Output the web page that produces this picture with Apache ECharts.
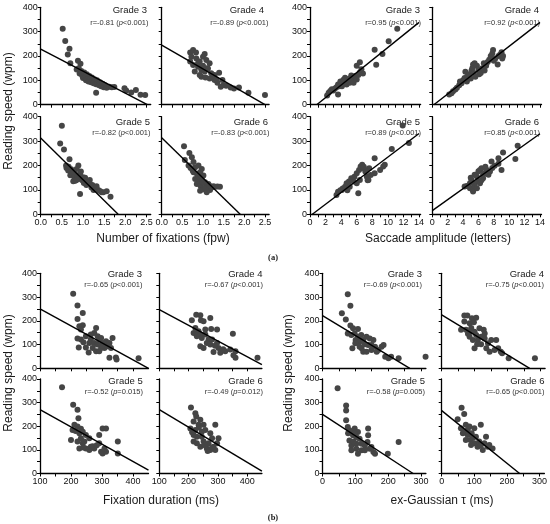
<!DOCTYPE html>
<html>
<head>
<meta charset="utf-8">
<script src="https://cdn.jsdelivr.net/npm/echarts@6/dist/echarts.min.js"></script>
<style>
  html, body { margin: 0; padding: 0; background: #fff; }
  #chart { width: 550px; height: 524px; }
</style>
</head>
<body>
<div id="chart"></div>
<script type="text/javascript">
// reading speed (wpm) vs. eye movement measures, per grade
var fixG3 = [[0.52,312],[0.58,262],[0.68,230],[0.64,206],[0.70,170],[0.88,180],[0.94,168],[0.85,145],[0.90,150],[0.92,128],[0.96,138],[0.98,120],[1.00,110],[1.03,132],[1.05,115],[1.07,100],[1.09,125],[1.11,105],[1.13,95],[1.15,118],[1.17,108],[1.19,92],[1.21,112],[1.23,100],[1.25,88],[1.27,105],[1.29,96],[1.31,84],[1.33,100],[1.35,90],[1.31,49],[1.38,80],[1.40,92],[1.43,76],[1.46,86],[1.49,72],[1.52,80],[1.56,70],[1.62,74],[1.68,72],[1.74,73],[1.98,68],[2.02,58],[2.14,50],[2.25,60],[2.36,41],[2.47,40]];
var fixG4 = [[0.69,214],[0.76,225],[0.83,214],[0.72,197],[0.84,190],[0.92,177],[1.00,197],[1.04,208],[1.08,184],[1.16,170],[0.69,177],[0.76,163],[0.88,156],[0.96,142],[0.80,136],[1.04,136],[1.12,149],[1.20,129],[1.39,131],[0.96,115],[1.06,112],[1.16,108],[1.28,101],[1.35,90],[1.47,101],[1.50,81],[1.43,74],[1.67,71],[1.75,67],[1.87,71],[2.10,49],[2.50,40],[1.28,122],[0.92,122],[1.10,150],[1.24,114],[0.88,170],[1.00,160],[1.33,104],[1.56,78]];
var fixG5 = [[0.50,363],[0.46,290],[0.55,266],[0.68,226],[0.60,200],[0.61,190],[0.65,180],[0.72,185],[0.89,200],[0.85,186],[0.81,138],[0.93,165],[1.00,152],[1.09,138],[1.16,141],[1.16,124],[1.20,110],[1.28,108],[1.36,100],[1.44,90],[1.48,90],[1.56,94],[1.65,72],[0.93,83],[0.77,135],[0.70,160],[0.75,170],[0.80,150],[0.86,160],[0.90,145],[0.95,175],[0.98,140],[1.02,128],[1.05,150],[1.08,120],[1.12,130],[1.22,120],[1.25,100],[1.32,115],[1.40,96],[0.66,195],[0.78,175],[0.84,140]];
var fixG6 = [[0.54,279],[0.56,223],[0.67,251],[0.73,234],[0.77,214],[0.65,200],[0.70,190],[0.81,193],[0.89,200],[0.97,186],[0.77,172],[0.85,166],[0.93,172],[1.01,159],[0.81,145],[0.89,138],[0.97,145],[1.05,131],[0.85,124],[0.94,117],[1.07,113],[1.13,124],[1.01,103],[1.17,100],[1.21,110],[1.29,113],[1.41,113],[0.93,97],[1.09,90],[0.75,180],[0.88,155],[1.00,130],[1.05,108],[1.15,118],[1.25,115],[1.35,114]];

var sacG3 = [[11.2,312],[10.1,261],[9.3,208],[8.3,226],[8.5,164],[6.4,174],[6.0,160],[3.6,42],[2.2,38],[2.4,49],[2.6,56],[2.8,63],[3.0,58],[3.2,67],[3.4,72],[3.8,76],[4.1,86],[4.3,90],[4.5,97],[4.7,100],[4.9,104],[5.1,108],[5.3,97],[5.6,111],[5.8,118],[6.2,122],[6.4,132],[6.8,128],[6.6,146],[4.7,83],[4.1,76],[5.1,90],[5.6,90],[6.0,104],[3.6,83],[4.5,111],[5.3,120],[3.9,95],[4.3,102]];
var sacG4 = [[2.2,42],[2.5,47],[2.7,55],[3.0,62],[3.2,70],[3.5,80],[3.6,95],[3.8,88],[4.0,100],[4.2,110],[4.3,135],[4.5,95],[4.6,118],[4.8,125],[5.0,108],[5.1,140],[5.2,150],[5.3,165],[5.4,130],[5.5,170],[5.6,115],[5.8,160],[6.0,145],[6.1,125],[6.3,130],[6.5,150],[6.7,170],[6.8,140],[7.0,160],[7.2,175],[7.4,185],[7.6,200],[7.8,210],[7.9,225],[8.0,180],[8.2,190],[8.5,165],[8.6,200],[8.8,205],[9.0,215],[9.1,190],[9.2,200]];
var sacG5 = [[11.9,364],[12.7,292],[10.5,268],[8.3,230],[9.6,203],[9.4,196],[9.0,182],[8.3,168],[6.2,86],[3.4,79],[3.6,92],[3.9,99],[4.2,106],[4.5,113],[4.7,127],[5.0,134],[5.3,148],[5.7,154],[6.0,168],[6.3,182],[6.5,196],[6.7,203],[6.9,189],[7.1,175],[7.3,154],[7.5,141],[6.4,141],[6.0,127],[5.6,134],[5.1,113],[4.8,99],[7.6,189],[7.8,161],[7.2,180],[4.1,100],[5.4,140],[6.9,195],[7.4,140]];
var sacG6 = [[11.1,281],[10.8,227],[9.2,253],[8.6,230],[9.0,182],[8.1,199],[7.7,216],[8.6,207],[4.5,116],[4.9,107],[5.3,100],[5.5,127],[5.1,141],[5.8,155],[6.2,182],[6.4,189],[6.8,168],[7.3,162],[6.6,148],[6.0,134],[5.5,114],[6.2,127],[7.1,182],[7.5,175],[4.9,127],[4.2,114],[5.5,162],[6.6,162],[5.3,93],[5.8,107],[6.0,176],[6.9,195],[7.8,190],[5.0,150],[6.4,140]];

var fdG3 = [[207,314],[221,264],[221,208],[238,233],[227,177],[238,181],[232,163],[221,125],[232,121],[225,88],[248,135],[264,121],[259,107],[275,107],[281,170],[286,135],[291,121],[297,128],[302,107],[313,114],[318,93],[308,86],[257,67],[281,72],[291,72],[297,86],[324,107],[329,86],[324,44],[345,46],[347,37],[418,42],[248,88],[270,86],[275,149],[264,142],[334,128],[240,110],[300,95],[285,100]];
var fdG4 = [[211,202],[226,226],[240,223],[242,202],[274,212],[251,198],[277,166],[297,163],[351,146],[223,170],[234,156],[240,142],[228,135],[245,128],[257,142],[268,121],[262,107],[240,93],[251,86],[280,121],[297,107],[285,69],[308,65],[325,72],[342,79],[360,72],[360,44],[353,55],[435,44],[274,100],[302,86],[217,149],[257,163],[230,145],[290,95],[318,80]];
var fdG5 = [[171,365],[207,291],[221,270],[224,234],[211,206],[205,184],[221,199],[232,189],[238,177],[227,170],[248,163],[200,142],[221,135],[232,149],[238,128],[243,135],[227,106],[259,149],[264,113],[275,106],[291,163],[302,191],[313,191],[291,128],[297,92],[302,85],[313,92],[308,106],[351,135],[351,85],[259,99],[248,106],[215,180],[240,110],[270,115],[283,120]];
var fdG6 = [[208,279],[223,255],[226,241],[217,220],[240,227],[234,206],[251,206],[291,206],[206,191],[223,184],[245,177],[257,184],[217,163],[228,156],[245,156],[274,170],[280,149],[302,149],[251,135],[268,128],[228,128],[240,113],[262,106],[285,113],[297,128],[274,99],[291,99],[217,135],[235,195],[255,120],[265,95],[280,110],[212,175]];

var tauG3 = [[77,312],[85,263],[59,232],[71,206],[85,180],[93,169],[108,166],[77,147],[88,140],[98,147],[108,133],[91,84],[101,119],[113,112],[124,119],[134,133],[144,126],[139,98],[124,70],[134,70],[149,77],[160,91],[170,77],[180,91],[186,98],[191,49],[201,42],[209,49],[232,42],[314,49],[119,84],[149,98],[155,119],[129,101],[113,91],[165,70],[118,140],[100,105]];
var tauG4 = [[69,222],[78,222],[92,211],[105,213],[69,197],[85,190],[98,194],[128,162],[59,162],[74,162],[88,154],[100,154],[115,169],[105,140],[120,133],[131,126],[85,133],[95,119],[110,119],[100,84],[120,101],[141,105],[151,119],[166,119],[172,84],[146,70],[161,77],[180,70],[184,63],[204,42],[284,42],[136,84],[131,147],[108,101],[90,170],[80,145]];
var tauG5 = [[46,361],[72,288],[72,267],[72,225],[77,197],[82,183],[88,176],[98,190],[108,176],[93,162],[103,155],[113,147],[82,140],[88,119],[103,126],[119,126],[129,119],[139,190],[139,162],[137,133],[144,105],[155,91],[160,84],[149,112],[119,98],[103,105],[88,98],[129,98],[199,84],[232,133],[108,84],[98,169],[78,170],[95,135]];
var tauG6 = [[61,278],[69,252],[49,230],[74,206],[85,199],[59,192],[69,178],[80,163],[92,170],[100,192],[120,206],[105,156],[88,142],[74,142],[100,128],[115,135],[131,128],[146,121],[156,106],[126,99],[110,113],[90,121],[136,156],[141,113],[80,185],[95,150],[65,170],[120,120]];

// fitted regression lines (end points)
var fixLines = [[[0,228],[2.52,0]], [[0,245],[2.5,0]], [[0,313],[1.83,0]], [[0,314],[1.9,0]]];
var sacLines = [[[0.86,0],[14,338]], [[0.2,0],[14,338]], [[0.3,0],[14,331]], [[0,15],[14,330]]];
var fdLines  = [[[100,250],[450,0]], [[100,247],[450,15]], [[100,270],[450,14]], [[100,270],[450,10]]];
var tauLines = [[[0,222],[266,0]], [[0,225],[268,0]], [[0,250],[276,0]], [[0,266],[239,0]]];

var grades = ['Grade 3', 'Grade 4', 'Grade 5', 'Grade 6'];
var fixStats = ['r=-0.81 (|<0.001)', 'r=-0.89 (|<0.001)', 'r=-0.82 (|<0.001)', 'r=-0.83 (|<0.001)'];
var sacStats = ['r=0.95 (|<0.001)', 'r=0.92 (|<0.001)', 'r=0.89 (|<0.001)', 'r=0.85 (|<0.001)'];
var fdStats  = ['r=-0.65 (|<0.001)', 'r=-0.67 (|<0.001)', 'r=-0.52 (|=0.015)', 'r=-0.49 (|=0.012)'];
var tauStats = ['r=-0.69 (|<0.001)', 'r=-0.75 (|<0.001)', 'r=-0.58 (|=0.005)', 'r=-0.65 (|<0.001)'];

// tick values
var yTicks = [0,50,100,150,200,250,300,350,400];
var yLabels = [0,100,200,300,400];
var fixTicks = [0,0.25,0.5,0.75,1,1.25,1.5,1.75,2,2.25,2.5];
var fixLabels = [0,0.5,1,1.5,2,2.5];
var sacTicks = [0,1,2,3,4,5,6,7,8,9,10,11,12,13,14];
var sacLabels = [0,2,4,6,8,10,12,14];
var fdTicks = [100,150,200,250,300,350,400];
var fdLabels = [100,200,300,400];
var tauTicks = [0,50,100,150,200,250,300];
var tauLabels = [0,100,200,300];

var FONT = '"Liberation Sans", Arial, sans-serif';
var chart = echarts.init(document.getElementById('chart'));

// one entry per measure: data, axis range, panel boxes [left, top, width, height], text anchors
var groups = [
  { data: [fixG3, fixG4, fixG5, fixG6], lines: fixLines, stats: fixStats,
    min: 0, max: 2.6, ticks: fixTicks, labels: fixLabels, fmt: function (v) { return v.toFixed(1); },
    boxes: [[40.7,7.3,110,97.4],[161.7,7.3,107.4,97.4],[40.7,116.7,110,97.6],[161.7,116.7,107.4,97.6]],
    gx: [147,264,150,268], rx: [148.5,268.5,150.5,269.5], gy: [10.5,10.5,122,122], ry: [22.5,22.5,132.5,132.5] },
  { data: [sacG3, sacG4, sacG5, sacG6], lines: sacLines, stats: sacStats,
    min: 0, max: 14.2, ticks: sacTicks, labels: sacLabels, fmt: function (v) { return String(v); },
    boxes: [[310,7.3,110.6,97.4],[432.3,7.3,109.2,97.4],[310,116.7,110.6,97.6],[432.3,116.7,109.2,97.6]],
    gx: [420,539,420,539], rx: [421,540,421,540], gy: [10.5,10.5,122,122], ry: [22.5,22.5,132.5,132.5] },
  { data: [fdG3, fdG4, fdG5, fdG6], lines: fdLines, stats: fdStats,
    min: 100, max: 450, ticks: fdTicks, labels: fdLabels, fmt: function (v) { return String(v); },
    boxes: [[40,273.3,108.5,95],[159.3,273.3,102.6,95],[40,379,108.5,94.5],[159.3,379,102.6,94.5]],
    gx: [142,262.5,142.7,262.7], rx: [142.5,263,143,263], gy: [274,274,381,381], ry: [284.5,284.5,392,392] },
  { data: [tauG3, tauG4, tauG5, tauG6], lines: tauLines, stats: tauStats,
    min: 0, max: 315, ticks: tauTicks, labels: tauLabels, fmt: function (v) { return String(v); },
    boxes: [[322.5,273.3,103.4,95],[441.7,273.3,103.4,95],[322.5,379,103.4,94.5],[441.7,379,103.4,94.5]],
    gx: [422,544,425,544.5], rx: [422,544,425,544.5], gy: [274,274,381,381], ry: [284.5,284.5,392,392] }
];

var grid = [], xAxis = [], yAxis = [], series = [], graphic = [];
var axisLine = { show: true, onZero: false, lineStyle: { color: '#000', width: 1.3 } };

groups.forEach(function (g) {
  for (var i = 0; i < 4; i++) {
    var b = g.boxes[i], idx = grid.length;
    grid.push({ left: b[0], top: b[1], width: b[2], height: b[3], containLabel: false });
    xAxis.push({
      gridIndex: idx, type: 'value', min: g.min, max: g.max,
      axisLine: axisLine, splitLine: { show: false },
      axisTick: { show: true, length: 3, customValues: g.ticks, lineStyle: { color: '#000', width: 1 } },
      axisLabel: { show: i >= 2, customValues: g.labels, formatter: g.fmt, margin: 4,
        fontSize: 9, color: '#111', fontFamily: FONT }
    });
    yAxis.push({
      gridIndex: idx, type: 'value', min: 0, max: 400,
      axisLine: axisLine, splitLine: { show: false },
      axisTick: { show: true, length: 3, customValues: yTicks, lineStyle: { color: '#000', width: 1 } },
      axisLabel: { show: i % 2 === 0, customValues: yLabels, margin: 3,
        fontSize: 9, color: '#111', fontFamily: FONT }
    });
    series.push({
      type: 'scatter', xAxisIndex: idx, yAxisIndex: idx, data: g.data[i],
      symbolSize: 6, itemStyle: { color: '#454545', opacity: 1 }, silent: true, z: 2
    });
    series.push({
      type: 'line', xAxisIndex: idx, yAxisIndex: idx, data: g.lines[i],
      symbol: 'none', lineStyle: { color: '#000', width: 1.4 }, silent: true, z: 3
    });
    graphic.push({
      type: 'text', x: g.gx[i], y: g.gy[i],
      style: { text: grades[i], align: 'right', verticalAlign: 'middle',
        fontSize: 9.5, fontFamily: FONT, fill: '#1a1a1a' }
    });
    var parts = g.stats[i].split('|');
    graphic.push({
      type: 'text', x: g.rx[i], y: g.ry[i],
      style: { text: parts[0] + '{i|p}' + parts[1], align: 'right', verticalAlign: 'middle',
        fontSize: 7.5, fontFamily: FONT, fill: '#333',
        rich: { i: { fontStyle: 'italic', fontSize: 7.5, fontFamily: FONT, fill: '#333' } } }
    });
  }
});

// axis titles and panel letters
function addText(text, x, y, size, rot, extra) {
  var t = {
    type: 'text', x: x, y: y, rotation: rot || 0,
    style: { text: text, align: 'center', verticalAlign: 'middle',
      fontSize: size, fontFamily: FONT, fill: '#1a1a1a' }
  };
  if (extra) { for (var k in extra) t.style[k] = extra[k]; }
  graphic.push(t);
}
addText('Reading speed (wpm)', 9, 111, 12, Math.PI / 2);
addText('Reading speed (wpm)', 9, 373, 12, Math.PI / 2);
addText('Reading speed (wpm)', 289, 373, 12, Math.PI / 2);
addText('Number of fixations (fpw)', 163, 239, 12);
addText('Saccade amplitude (letters)', 438, 239, 12);
addText('Fixation duration (ms)', 161, 501, 12);
addText('ex-Gaussian τ (ms)', 442, 501, 12);
addText('(a)', 273, 258, 8.5, 0, { fontWeight: 'bold', fontFamily: '"Liberation Serif", serif' });
addText('(b)', 273, 518, 8.5, 0, { fontWeight: 'bold', fontFamily: '"Liberation Serif", serif' });

chart.setOption({
  animation: false,
  backgroundColor: '#fff',
  grid: grid,
  xAxis: xAxis,
  yAxis: yAxis,
  series: series,
  graphic: graphic
});
</script>
</body>
</html>
